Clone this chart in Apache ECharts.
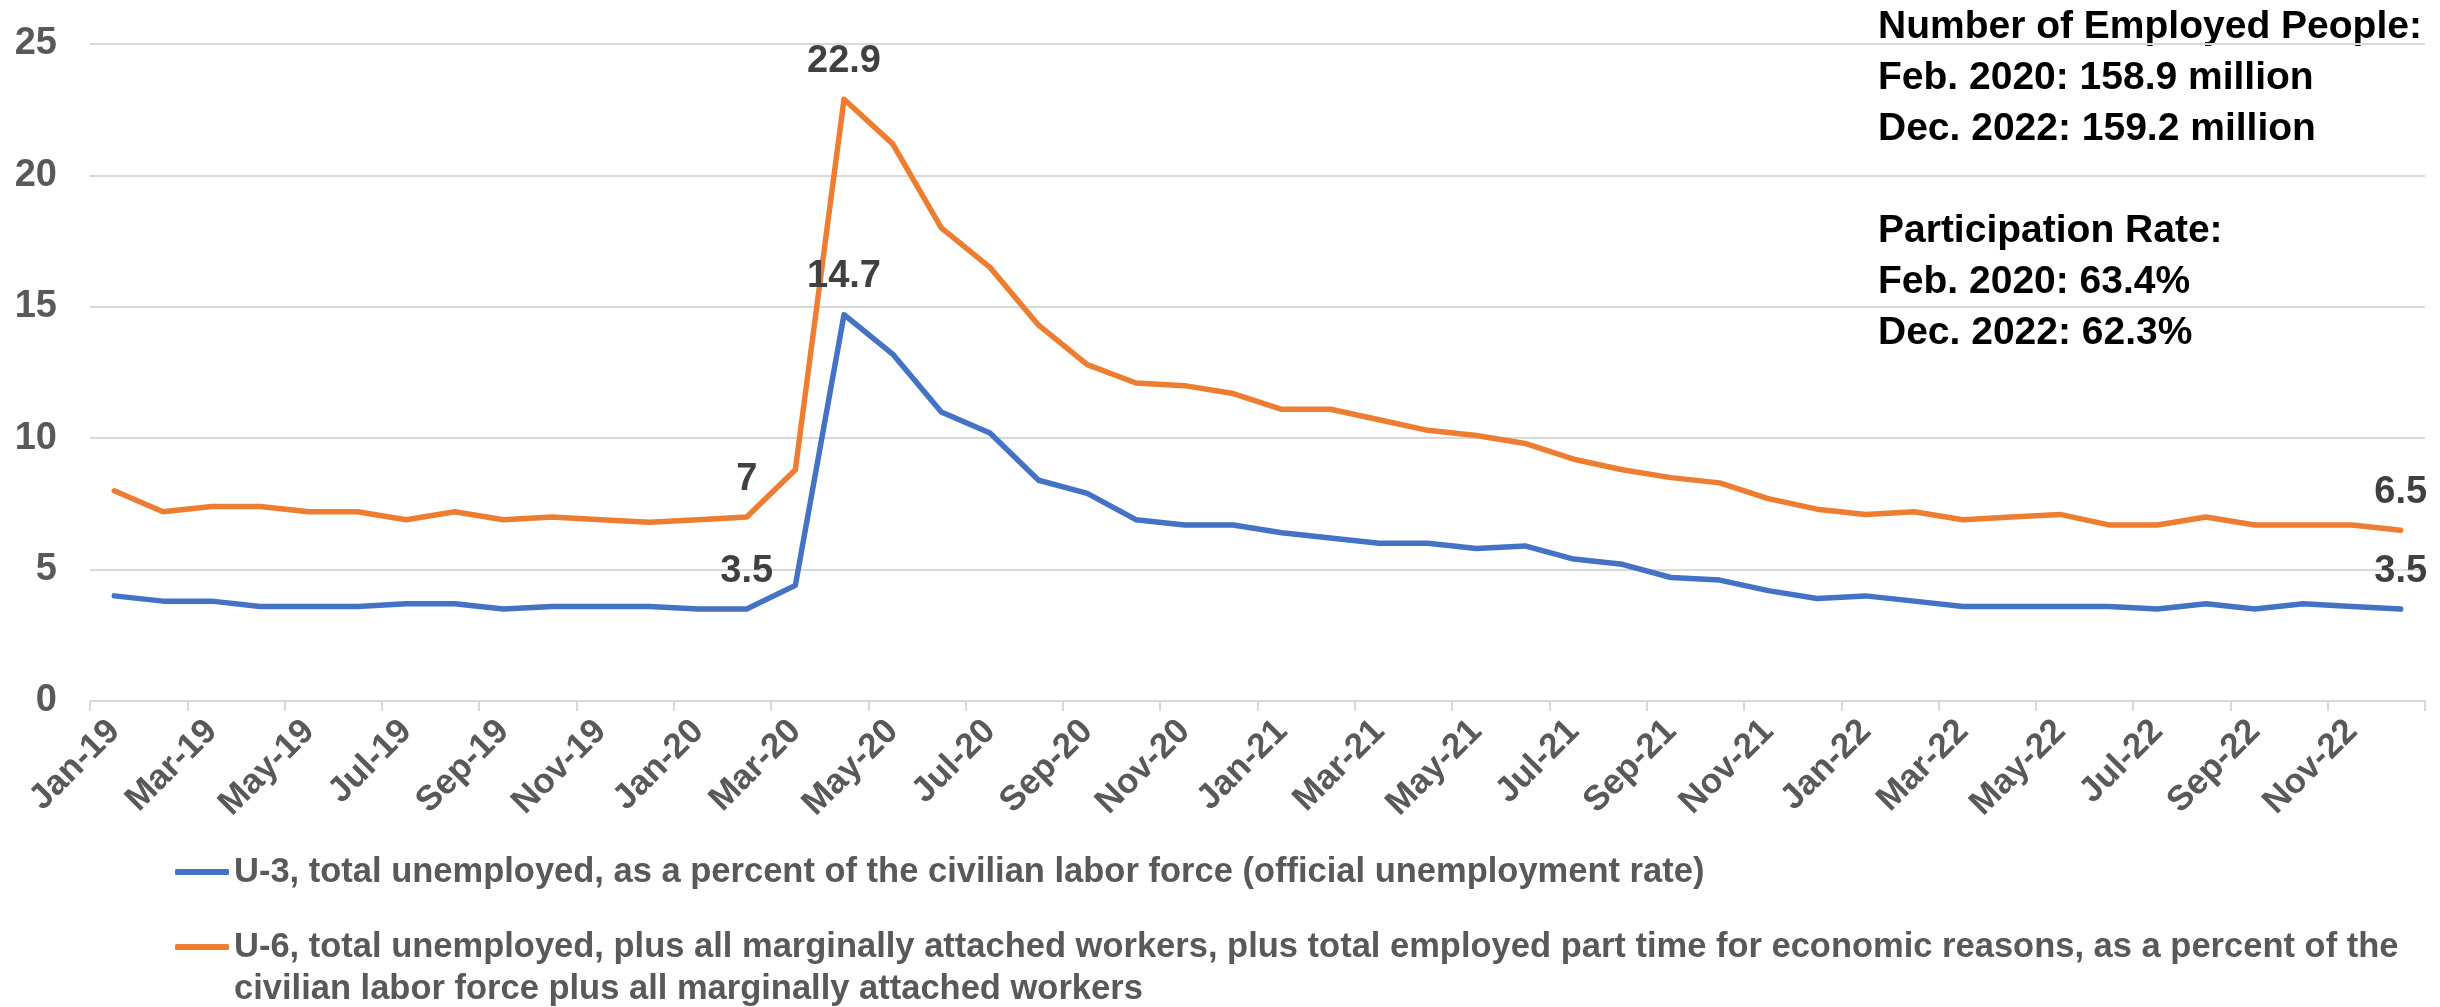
<!DOCTYPE html>
<html>
<head>
<meta charset="utf-8">
<script src="https://cdn.jsdelivr.net/npm/echarts@6/dist/echarts.min.js"></script>
<style>
html,body{margin:0;padding:0;background:#fff;}
#chart{width:2440px;height:1007px;}
</style>
</head>
<body>
<div id="chart"></div>
<script>
const categories = [
  'Jan-19','Feb-19','Mar-19','Apr-19','May-19','Jun-19','Jul-19','Aug-19','Sep-19','Oct-19','Nov-19','Dec-19',
  'Jan-20','Feb-20','Mar-20','Apr-20','May-20','Jun-20','Jul-20','Aug-20','Sep-20','Oct-20','Nov-20','Dec-20',
  'Jan-21','Feb-21','Mar-21','Apr-21','May-21','Jun-21','Jul-21','Aug-21','Sep-21','Oct-21','Nov-21','Dec-21',
  'Jan-22','Feb-22','Mar-22','Apr-22','May-22','Jun-22','Jul-22','Aug-22','Sep-22','Oct-22','Nov-22','Dec-22'
];
const u3Values = [
  4.0,3.8,3.8,3.6,3.6,3.6,3.7,3.7,3.5,3.6,3.6,3.6,
  3.5,3.5,4.4,14.7,13.2,11.0,10.2,8.4,7.9,6.9,6.7,6.7,
  6.4,6.2,6.0,6.0,5.8,5.9,5.4,5.2,4.7,4.6,4.2,3.9,
  4.0,3.8,3.6,3.6,3.6,3.6,3.5,3.7,3.5,3.7,3.6,3.5
];
const u6Values = [
  8.0,7.2,7.4,7.4,7.2,7.2,6.9,7.2,6.9,7.0,6.9,6.8,
  6.9,7.0,8.8,22.9,21.2,18.0,16.5,14.3,12.8,12.1,12.0,11.7,
  11.1,11.1,10.7,10.3,10.1,9.8,9.2,8.8,8.5,8.3,7.7,7.3,
  7.1,7.2,6.9,7.0,7.1,6.7,6.7,7.0,6.7,6.7,6.7,6.5
];
const labeledIndices = [13, 15, 47];
const seriesNames = [
  'U-3, total unemployed, as a percent of the civilian labor force (official unemployment rate)',
  'U-6, total unemployed, plus all marginally attached workers, plus total employed part time for economic reasons, as a percent of the civilian labor force plus all marginally attached workers'
];
const u6LegendLines = [
  'U-6, total unemployed, plus all marginally attached workers, plus total employed part time for economic reasons, as a percent of the',
  'civilian labor force plus all marginally attached workers'
];
const yTicks = {min: 0, max: 25, interval: 5};
const noteLines = [
  'Number of Employed People:',
  'Feb. 2020: 158.9 million',
  'Dec. 2022: 159.2 million',
  '',
  'Participation Rate:',
  'Feb. 2020: 63.4%',
  'Dec. 2022: 62.3%'
];

const FONT = '"Liberation Sans", Arial, sans-serif';
const colors = ['#4472C4', '#ED7D31'];

function buildData(values) {
  return values.map((v, i) => labeledIndices.indexOf(i) >= 0
    ? {value: v, label: {show: true}}
    : v);
}

const labelStyle = {
  show: false,
  position: 'top',
  distance: 19,
  fontFamily: FONT,
  fontWeight: 'bold',
  fontSize: 38,
  color: '#404040'
};

const legendText = {fontFamily: FONT, fontWeight: 'bold', fontSize: 34.5, color: '#595959', lineHeight: 42};

const chart = echarts.init(document.getElementById('chart'));
chart.setOption({
  animation: false,
  backgroundColor: '#fff',
  color: colors,
  grid: {left: 90, right: 15, top: 44, bottom: 306, containLabel: false},
  xAxis: {
    type: 'category',
    data: categories,
    boundaryGap: true,
    axisLine: {lineStyle: {color: '#d9d9d9', width: 2}},
    axisTick: {show: true, interval: 1, length: 10, lineStyle: {color: '#d9d9d9', width: 2}},
    axisLabel: {
      interval: 1,
      rotate: 45,
      margin: 25,
      fontFamily: FONT,
      fontWeight: 'bold',
      fontSize: 35,
      color: '#595959'
    },
    splitLine: {show: false}
  },
  yAxis: {
    type: 'value',
    min: yTicks.min,
    max: yTicks.max,
    interval: yTicks.interval,
    axisLine: {show: false},
    axisTick: {show: false},
    axisLabel: {
      margin: 33,
      fontFamily: FONT,
      fontWeight: 'bold',
      fontSize: 38,
      color: '#595959'
    },
    splitLine: {lineStyle: {color: '#d9d9d9', width: 2}}
  },
  legend: [
    {
      data: [seriesNames[0]],
      orient: 'vertical',
      left: 175,
      top: 851,
      padding: 0,
      icon: 'roundRect',
      itemWidth: 54,
      itemHeight: 6,
      selectedMode: false,
      textStyle: legendText
    },
    {
      data: [seriesNames[1]],
      orient: 'vertical',
      left: 175,
      top: 884,
      padding: 0,
      icon: 'roundRect',
      itemWidth: 54,
      itemHeight: 6,
      selectedMode: false,
      formatter: function () { return '\n' + u6LegendLines.join('\n'); },
      textStyle: legendText
    }
  ],
  graphic: [
    {
      type: 'text',
      left: 1878,
      top: 2,
      style: {
        text: noteLines.join('\n'),
        font: 'bold 39px ' + FONT,
        fill: '#000',
        lineHeight: 51
      }
    }
  ],
  series: [
    {
      name: seriesNames[0],
      type: 'line',
      data: buildData(u3Values),
      symbol: 'circle',
      symbolSize: 0,
      showSymbol: true,
      lineStyle: {width: 5.5, color: colors[0], cap: 'round', join: 'round'},
      itemStyle: {color: colors[0]},
      label: labelStyle,
      z: 3
    },
    {
      name: seriesNames[1],
      type: 'line',
      data: buildData(u6Values),
      symbol: 'circle',
      symbolSize: 0,
      showSymbol: true,
      lineStyle: {width: 5.5, color: colors[1], cap: 'round', join: 'round'},
      itemStyle: {color: colors[1]},
      label: labelStyle,
      z: 2
    }
  ]
});
</script>
</body>
</html>
